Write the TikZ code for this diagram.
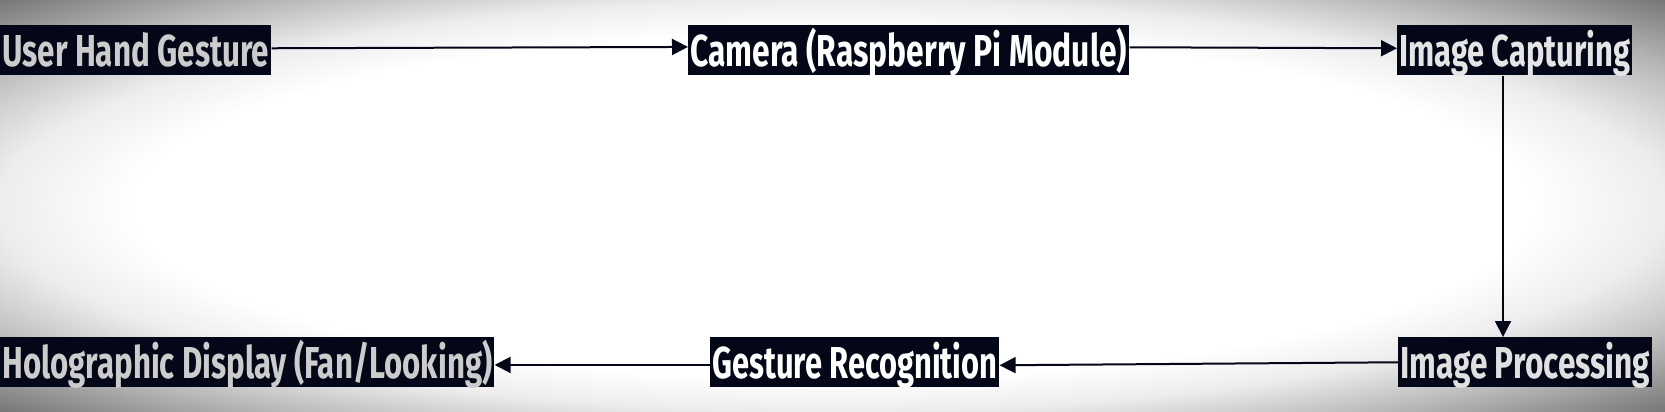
\documentclass[tikz,border=0pt]{standalone}
\usepackage{fontspec}
\setmainfont{Fira Sans}
\usetikzlibrary{arrows.meta}
\definecolor{boxc}{RGB}{3,7,24}
\pgfdeclareradialshading{vig}{\pgfpoint{0bp}{0bp}}{color(0bp)=(white); color(21bp)=(white); color(25bp)=(black!7); color(30bp)=(black!28); color(35.5bp)=(black!54); color(50bp)=(black!54)}
\newcommand\lbl[2]{\resizebox{#1}{23.25pt}{\raisebox{0pt}[\fontcharht\font`H][0pt]{#2}}}
\begin{document}
\begin{tikzpicture}[x=0.75pt,y=-0.75pt,
  box/.style={fill=boxc, text=white, anchor=north west, inner xsep=1.5pt, inner ysep=0pt,
    text height=30.75pt, text depth=6.75pt, font=\bfseries},
  edgebox/.style={box, text=white!80!black},
  conn/.style={draw=boxc, line width=1.5pt, -{Triangle[length=12pt,width=12pt]}}]
\useasboundingbox (0,0) rectangle (1665,411);
\shade[shading=vig] (0,0) rectangle (1665,411);
\node[edgebox] (n1) at (0,25) {\lbl{200.25pt}{User Hand Gesture}};
\node[box] (cam) at (688,25) {\lbl{327.75pt}{Camera (Raspberry Pi Module)}};
\node[box, text=white!90!black] (cap) at (1397,25) {\lbl{173.25pt}{Image Capturing}};
\node[box, text=white!88!black] (proc) at (1398,337) {\lbl{187.5pt}{Image Processing}};
\node[box] (rec) at (710,337) {\lbl{213.75pt}{Gesture Recognition}};
\node[edgebox] (holo) at (0,337) {\lbl{367.5pt}{Holographic Display (Fan/Looking)}};
\coordinate (vx) at (1503,200);
\draw[conn] ([yshift=1.5pt]n1.east) -- ([yshift=2.5pt]cam.west);
\draw[conn] ([yshift=2.25pt]cam.east) -- ([yshift=1.5pt]cap.west);
\draw[conn] (cap.south -| vx) -- (proc.north -| vx);
\draw[conn] (proc.west) -- ([yshift=-2.25pt]rec.east);
\draw[conn] ([yshift=-2pt]rec.west) -- ([yshift=-2pt]holo.east);
\end{tikzpicture}
\end{document}
